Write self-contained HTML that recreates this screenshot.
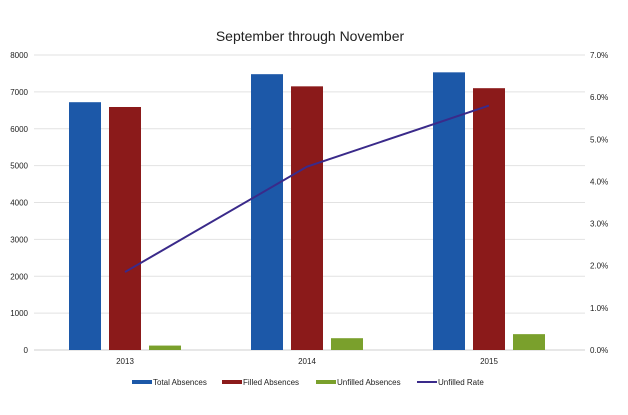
<!DOCTYPE html>
<html><head><meta charset="utf-8"><style>
body{margin:0;background:#fff;font-family:"Liberation Sans",sans-serif;}
svg text{font-family:"Liberation Sans",sans-serif;fill:#222;}
</style></head><body>
<svg id="chart" width="628" height="410">
<text x="310" y="41" text-anchor="middle" font-size="14">September through November</text>
<g id="grid"></g><g id="bars"></g><g id="line"></g><g id="legend"></g>
</svg>
<script>
const categories=["2013","2014","2015"];
const totalAbsences=[6720,7480,7530];
const filledAbsences=[6590,7150,7100];
const unfilledAbsences=[120,320,430];
const unfilledRate=[1.85,4.35,5.8];
const leftTicks=[0,1000,2000,3000,4000,5000,6000,7000,8000];
const rightTicks=[0,1,2,3,4,5,6,7];
const ns="http://www.w3.org/2000/svg";
const X0=34,X1=585,Y0=350,Y1=55;
const yL=v=>Y0-(v/8000)*(Y0-Y1);
const yR=v=>Y0-(v/7)*(Y0-Y1);
const cw=182;
const xc=i=>125+cw*i;
function mk(tag,attrs,parent){const e=document.createElementNS(ns,tag);for(const k in attrs)e.setAttribute(k,attrs[k]);parent.appendChild(e);return e;}
const grid=document.getElementById('grid');
leftTicks.forEach(t=>{
 const l=mk('line',{x1:X0,x2:X1,y1:yL(t),y2:yL(t),stroke:t===0?'#cfcfcf':'#e2e2e2','stroke-width':1},grid);
 
 
 const tx=mk('text',{x:28,y:yL(t)+3,'text-anchor':'end','font-size':8},grid);tx.textContent=t;
 
 
});
rightTicks.forEach(t=>{
 const tx=mk('text',{x:590,y:yR(t)+3,'font-size':8},grid);tx.textContent=t.toFixed(1)+'%';
 
 
});
const bars=document.getElementById('bars');
const series=[[totalAbsences,'#1c58a8',-56],[filledAbsences,'#8b1a1a',-16],[unfilledAbsences,'#7aa02c',24]];
categories.forEach((c,i)=>{
 series.forEach(s=>{
  const v=s[0][i];
  const r=mk('rect',{x:xc(i)+s[2],y:yL(v),width:32,height:Y0-yL(v),fill:s[1]},bars);
  
  
 });
 const tx=mk('text',{x:xc(i),y:364,'text-anchor':'middle','font-size':8},bars);tx.textContent=c;
 
 
});
const lg=document.getElementById('line');
const pl=mk('polyline',{points:unfilledRate.map((v,i)=>xc(i)+','+yR(v)).join(' '),fill:'none',stroke:'#3a2a8a','stroke-width':2},lg);


const leg=document.getElementById('legend');
[['Total Absences','#1c58a8',132,'rect'],['Filled Absences','#8b1a1a',222,'rect'],['Unfilled Absences','#7aa02c',316,'rect'],['Unfilled Rate','#3a2a8a',417,'line']].forEach(e=>{
 const g=mk('g',{},leg);
 
 
 if(e[3]==='rect')mk('rect',{x:e[2],y:380,width:20,height:4,fill:e[1]},g);
 else mk('line',{x1:e[2],x2:e[2]+20,y1:382,y2:382,stroke:e[1],'stroke-width':2},g);
 const t=mk('text',{x:e[2]+21,y:385,'font-size':8},g);t.textContent=e[0];
});
</script>
</body></html>
